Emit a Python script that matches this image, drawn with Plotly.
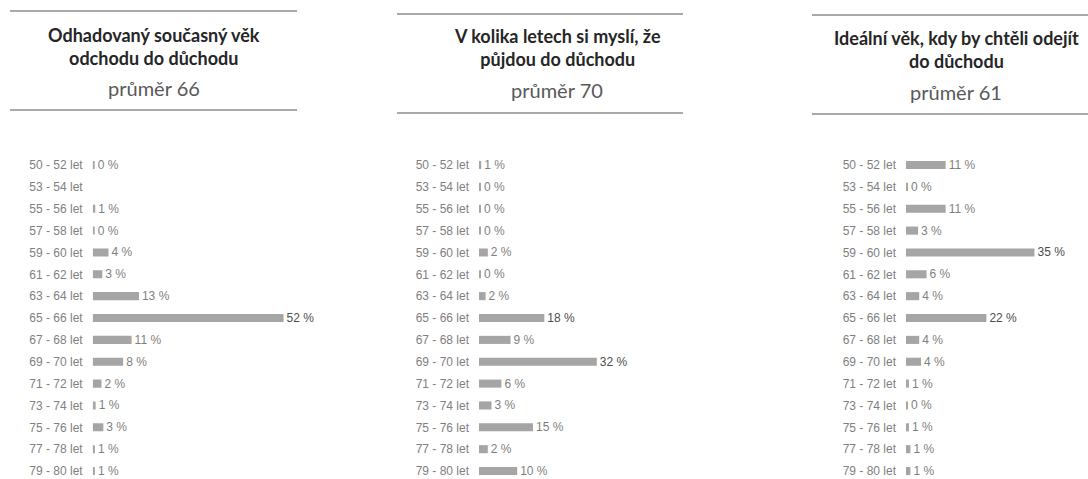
import plotly.graph_objects as go

W, H = 1088, 479

categories = ["50 - 52 let", "53 - 54 let", "55 - 56 let", "57 - 58 let", "59 - 60 let",
              "61 - 62 let", "63 - 64 let", "65 - 66 let", "67 - 68 let", "69 - 70 let",
              "71 - 72 let", "73 - 74 let", "75 - 76 let", "77 - 78 let", "79 - 80 let"]

current_age = [0.3, None, 0.7, 0.3, 4.3, 2.6, 12.6, 52.0, 10.6, 8.3, 2.4, 0.8, 2.9, 0.6, 0.6]
expected_age = [0.6, 0.3, 0.3, 0.3, 2.4, 0.3, 1.8, 17.8, 8.6, 32.1, 6.1, 3.4, 14.7, 2.4, 10.4]
ideal_age = [10.8, 0.3, 10.8, 3.3, 35.0, 5.6, 3.6, 21.9, 3.6, 4.1, 0.8, 0.3, 0.8, 1.2, 1.2]

titles = ["Odhadovaný současný věk<br>odchodu do důchodu",
          "V kolika letech si myslí, že<br>půjdou do důchodu",
          "Ideální věk, kdy by chtěli odejít<br>do důchodu"]
averages = ["průměr 66", "průměr 70", "průměr 61"]

series = [current_age, expected_age, ideal_age]

# layout in pixels
bar_x0 = [92.7, 479.0, 906.0]
px_per_pct = 3.67
title_cx = [154, 557, 956]
line_x = [(10, 297), (397, 683), (812, 1088)]
line_top_y = [11, 14, 15]
line_bot_y = [110, 113, 114]
title_y = [46.5, 48, 49.5]
avg_y = [88, 90, 92]

row_step = 21.86
first_row = 165.0
top_px = first_row - row_step / 2
dom_top = 1 - top_px / H
n_span = (H - top_px) / row_step
y_range = [-0.5 + n_span, -0.5]

fig = go.Figure()
label_font = dict(family="Liberation Sans, Arial, sans-serif", size=12, color="#808080")

for i, vals in enumerate(series):
    idx = "" if i == 0 else str(i + 1)
    x0 = bar_x0[i] / W
    x1 = min(bar_x0[i] + px_per_pct * 60, W) / W
    xmax = (x1 * W - bar_x0[i]) / px_per_pct
    texts = [None if v is None else f"{v:.0f} %" for v in vals]
    colors = [("#4d4d4d" if (v is not None and v >= 16) else "#7f7f7f") for v in vals]
    fig.add_trace(go.Bar(
        x=vals, y=categories, orientation="h",
        marker=dict(color="#a5a5a5", line=dict(width=0)),
        width=0.37,
        text=texts, textposition="outside", constraintext="none",
        textfont=dict(family="Liberation Sans, Arial, sans-serif", size=12, color=colors),
        cliponaxis=False,
        xaxis="x" + idx, yaxis="y" + idx,
        hoverinfo="skip",
    ))
    fig.layout["xaxis" + idx] = dict(domain=[x0, x1], range=[0, xmax], visible=False,
                                     anchor="y" + idx, fixedrange=True)
    fig.layout["yaxis" + idx] = dict(domain=[0, dom_top], range=y_range, anchor="x" + idx,
                                     type="category", showgrid=False, zeroline=False,
                                     showline=False, ticks="", ticklabelstandoff=9,
                                     tickfont=label_font, fixedrange=True)
    # header lines
    for yy in (line_top_y[i], line_bot_y[i]):
        fig.add_shape(type="line", xref="paper", yref="paper",
                      x0=line_x[i][0] / W, x1=line_x[i][1] / W,
                      y0=1 - yy / H, y1=1 - yy / H,
                      line=dict(color="#8c8c8c", width=1.5))
    fig.add_annotation(text="<b>" + titles[i] + "</b>", xref="paper", yref="paper",
                       x=title_cx[i] / W, y=1 - title_y[i] / H, xanchor="center", yanchor="middle",
                       showarrow=False, align="center",
                       font=dict(family="Lato, sans-serif", size=18, color="#262626"))
    fig.add_annotation(text=averages[i], xref="paper", yref="paper",
                       x=title_cx[i] / W, y=1 - avg_y[i] / H, xanchor="center", yanchor="middle",
                       showarrow=False,
                       font=dict(family="Lato, sans-serif", size=20, color="#595959"))

fig.update_layout(width=W, height=H, margin=dict(l=0, r=0, t=0, b=0),
                  paper_bgcolor="white", plot_bgcolor="white", showlegend=False,
                  bargap=0.6)

fig.write_html("out.html", config={"displayModeBar": False})
